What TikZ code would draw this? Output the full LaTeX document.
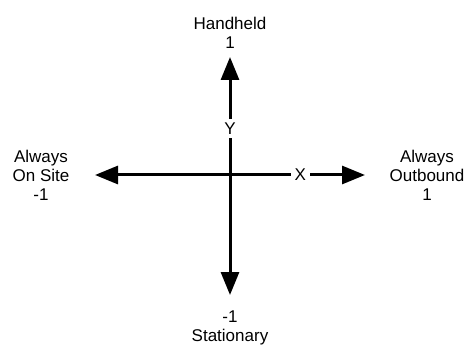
\documentclass[tikz,border=0pt]{standalone}
\usepackage{fontspec}
\setmainfont{Liberation Sans}
\usetikzlibrary{arrows.meta}
\begin{document}
\begin{tikzpicture}[
    x=1pt, y=-1pt,
    axis/.style={{Triangle[length=23pt,width=18pt]}-{Triangle[length=23pt,width=18pt]}, line width=3pt},
    lbl/.style={align=center, inner sep=0pt, font=\fontsize{17}{19}\selectfont},
    axlbl/.style={fill=white, inner sep=4pt, font=\fontsize{17}{19}\selectfont},
]
    \useasboundingbox (0,0) rectangle (464,345);

    % axis ends
    \coordinate (ytop) at (230,57);
    \coordinate (ybot) at (230,295);
    \coordinate (xleft) at (95,175);
    \coordinate (xright) at (365,175);

    % end labels
    \node[lbl] (hand) at (230,33) {Handheld\\1};
    \node[lbl] (stat) at (230,328) {-1\\Stationary};
    \node[lbl] (onsite) at (41,175) {Always\\On Site\\-1};
    \node[lbl] (outb) at (427,175) {Always\\Outbound\\1};

    % axes
    \draw[axis] (ybot) -- (ytop) node[axlbl, pos=0.70] (ylbl) {Y};
    \draw[axis] (xleft) -- (xright) node[axlbl, pos=0.76] (xlbl) {X};
\end{tikzpicture}
\end{document}
